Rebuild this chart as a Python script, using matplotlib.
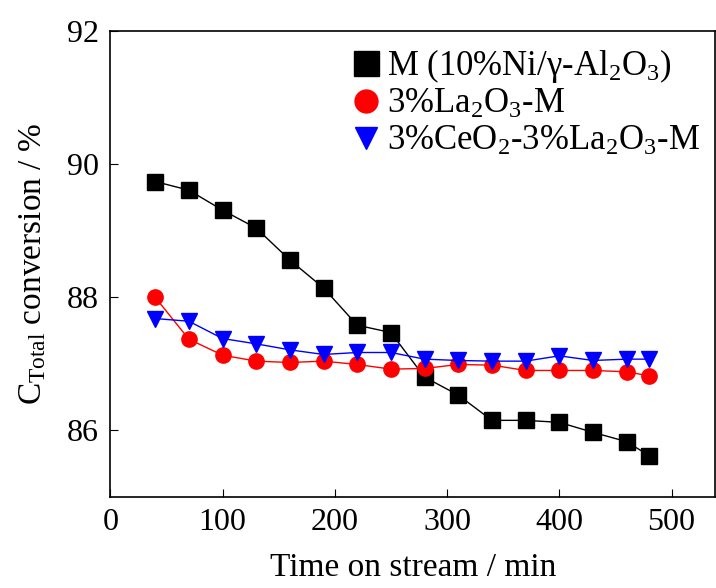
import matplotlib
matplotlib.use('Agg')
import matplotlib.pyplot as plt

time = [40, 70, 100, 130, 160, 190, 220, 250, 280, 310, 340, 370, 400, 430, 460, 480]
conv_m = [89.74, 89.61, 89.31, 89.04, 88.56, 88.14, 87.58, 87.47, 86.80, 86.53,
          86.15, 86.15, 86.12, 85.97, 85.83, 85.62]
conv_la = [88.00, 87.37, 87.13, 87.04, 87.02, 87.04, 86.99, 86.92, 86.93, 86.99,
           86.98, 86.90, 86.90, 86.90, 86.88, 86.82]
conv_ce = [87.68, 87.64, 87.38, 87.30, 87.21, 87.14, 87.17, 87.17, 87.07, 87.05,
           87.04, 87.04, 87.12, 87.05, 87.07, 87.07]
labels = [r'M (10%Ni/$\gamma$-Al$_2$O$_3$)', r'3%La$_2$O$_3$-M', r'3%CeO$_2$-3%La$_2$O$_3$-M']

plt.rcParams['font.family'] = ['Liberation Serif', 'DejaVu Serif']
plt.rcParams['mathtext.fontset'] = 'custom'
plt.rcParams['mathtext.rm'] = 'Liberation Serif'
plt.rcParams['mathtext.it'] = 'Liberation Serif:italic'
plt.rcParams['mathtext.default'] = 'regular'

fig = plt.figure(figsize=(7.16, 5.88), dpi=100)
ax = fig.add_axes([0.154, 0.155, 0.845, 0.792])

ax.plot(time, conv_m, color='black', lw=1, marker='s', ms=12, label=labels[0])
ax.plot(time, conv_la, color='red', lw=1, marker='o', ms=11, label=labels[1])
ax.plot(time, conv_ce, color='blue', lw=1, marker='v', ms=11, label=labels[2])

ax.set_xlim(0, 539)
ax.set_ylim(85, 92)
ax.set_xticks([0, 100, 200, 300, 400, 500])
ax.set_yticks([86, 88, 90, 92])
ax.tick_params(direction='in', length=6, labelsize=23, pad=8)
for s in ax.spines.values():
    s.set_linewidth(1.2)

ax.set_xlabel('Time on stream / min', fontsize=24, labelpad=11)
ax.set_ylabel(r'C$_{\mathrm{Total}}$ conversion / %', fontsize=24, labelpad=14)

leg = ax.legend(loc='upper right', frameon=False, fontsize=25, handletextpad=0.1,
                borderaxespad=0.05, labelspacing=0.1, handlelength=1.0,
                markerscale=1.5, bbox_to_anchor=(1.0, 1.0))
for h in leg.legend_handles:
    h.set_linestyle('none')

fig.savefig('out.png', dpi=100)
